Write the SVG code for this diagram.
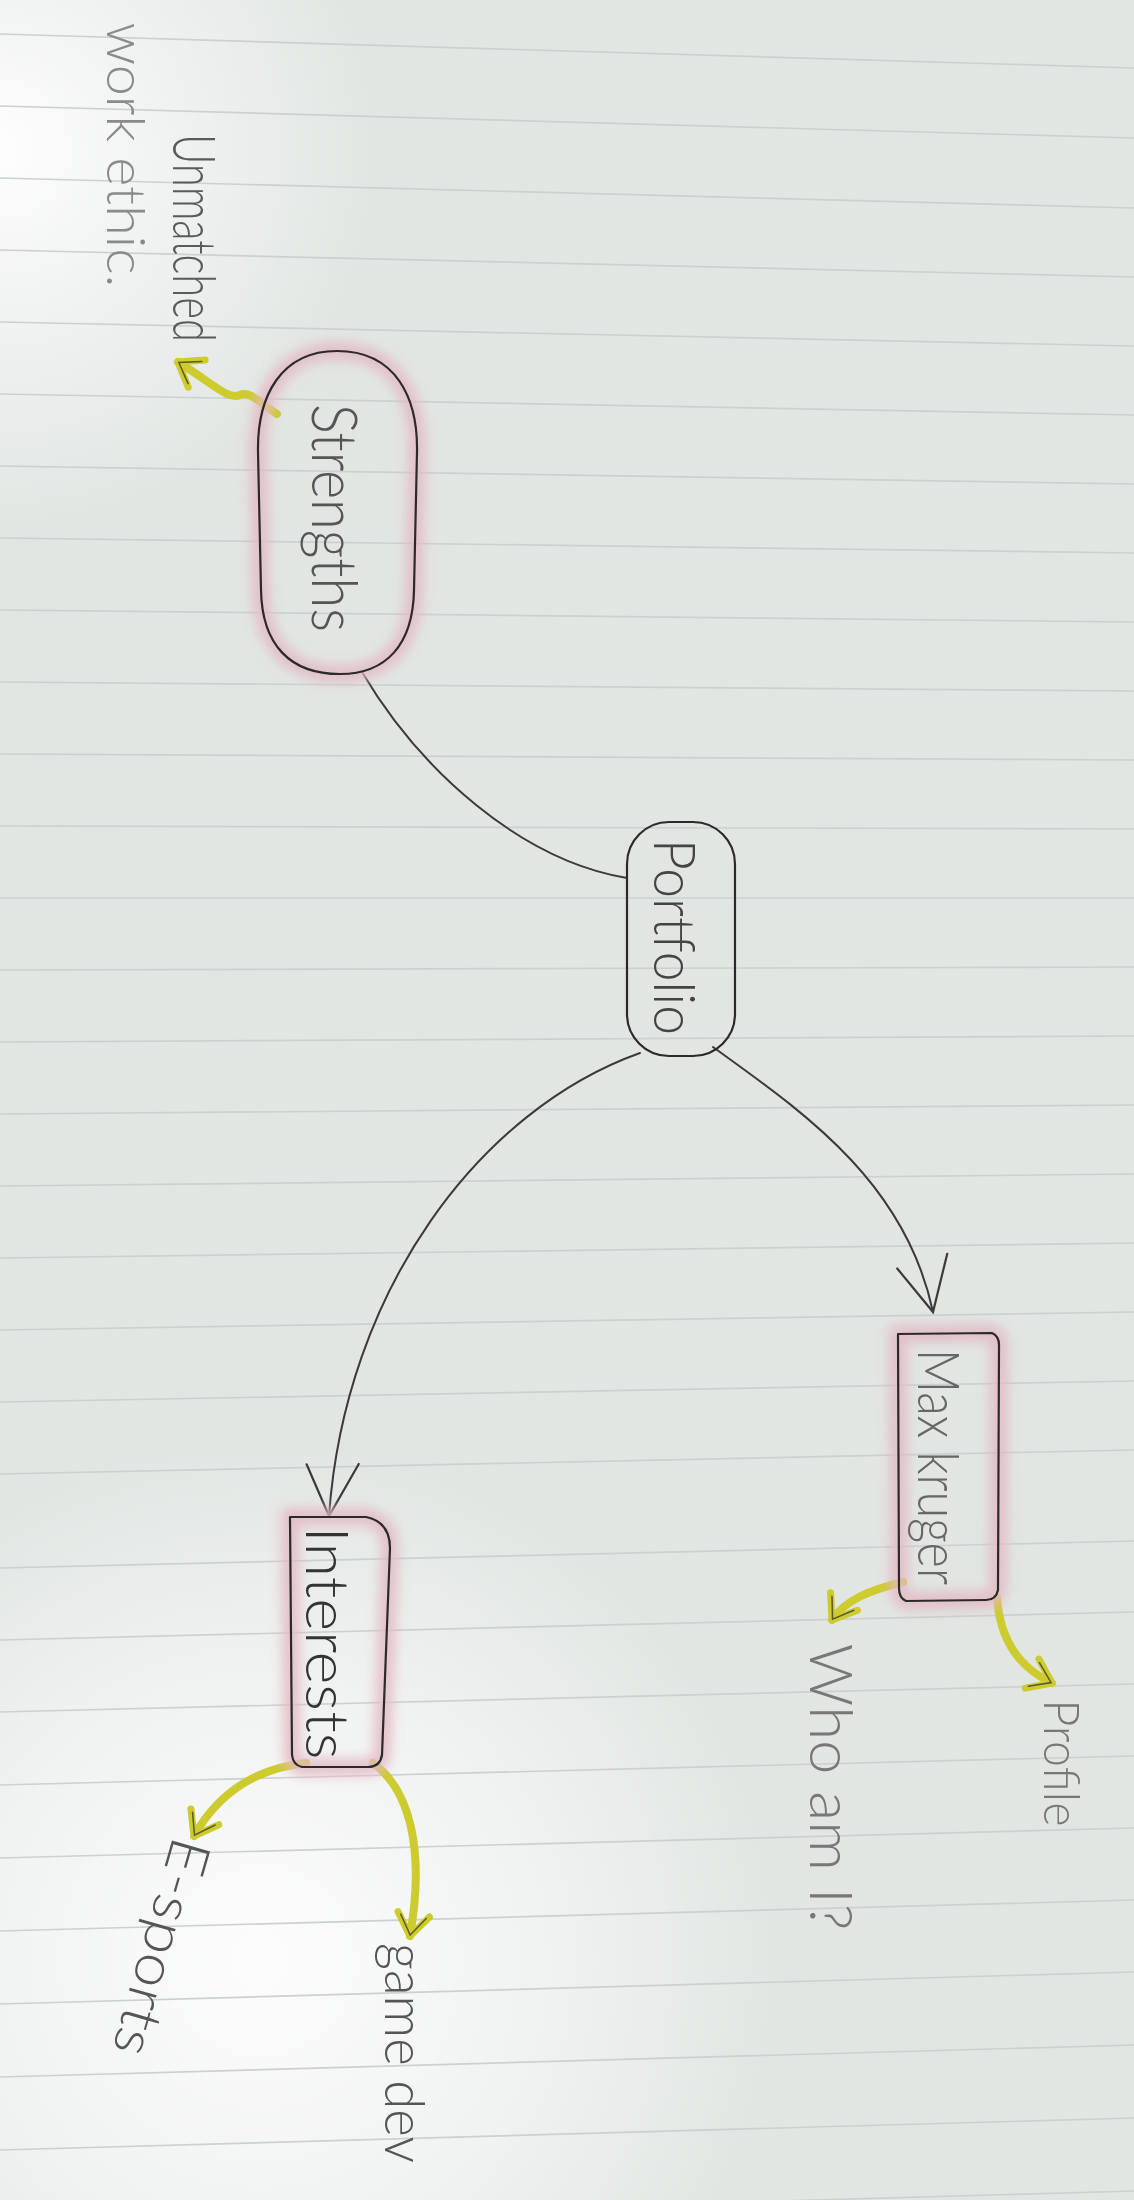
<svg xmlns="http://www.w3.org/2000/svg" width="1134" height="2200" viewBox="0 0 1134 2200">
<defs>
  <radialGradient id="glareTop" cx="0" cy="150" r="380" gradientUnits="userSpaceOnUse">
    <stop offset="0" stop-color="#ffffff" stop-opacity="0.95"/>
    <stop offset="0.5" stop-color="#ffffff" stop-opacity="0.45"/>
    <stop offset="1" stop-color="#ffffff" stop-opacity="0"/>
  </radialGradient>
  <radialGradient id="glareBot" cx="260" cy="1960" r="520" gradientUnits="userSpaceOnUse">
    <stop offset="0" stop-color="#ffffff" stop-opacity="0.9"/>
    <stop offset="0.55" stop-color="#ffffff" stop-opacity="0.5"/>
    <stop offset="1" stop-color="#ffffff" stop-opacity="0"/>
  </radialGradient>
  <filter id="blur" x="-30%" y="-30%" width="160%" height="160%">
    <feGaussianBlur stdDeviation="6"/>
  </filter>
  <marker id="ba" markerUnits="userSpaceOnUse" viewBox="0 0 64 64" refX="60" refY="32" markerWidth="64" markerHeight="64" orient="auto">
    <path d="M6,6 L60,32 L10,58" fill="none" stroke="#3a3a3a" stroke-width="2.2" stroke-linecap="round"/>
  </marker>
  <marker id="ya" markerUnits="userSpaceOnUse" viewBox="0 0 40 40" refX="34" refY="20" markerWidth="40" markerHeight="40" orient="auto">
    <path d="M12,4 L34,20 L12,36" fill="none" stroke="#cdcb2e" stroke-width="7" stroke-linecap="round" stroke-linejoin="round"/>
    <path d="M14,7 L33,20 L14,33" fill="none" stroke="#5a5a2a" stroke-width="1.5" stroke-linecap="round"/>
  </marker>
  <style>
    .rule { stroke: #cad1d0; stroke-width: 1.7; fill: none; }
    .glow { fill: none; stroke: #e3b9c4; stroke-width: 18; filter: url(#blur); opacity: 0.85; }
    .outline { fill: none; stroke: #2a2a2a; stroke-width: 2.2; stroke-linejoin: round; }
    .conn { fill: none; stroke: #3a3a3a; stroke-width: 2; stroke-linecap: round; }
    .yel { fill: none; stroke: #cdcb2e; stroke-width: 8; stroke-linecap: round; stroke-linejoin: round; }
    .hw { font-family: "Lato", "Liberation Sans", "DejaVu Sans", sans-serif; font-weight: 300; text-anchor: middle; }
  </style>
</defs>

<!-- paper -->
<rect x="0" y="0" width="1134" height="2200" fill="#e1e6e3"/>
<rect x="0" y="0" width="1134" height="2200" fill="url(#glareTop)"/>
<rect x="0" y="0" width="1134" height="2200" fill="url(#glareBot)"/>
<g id="rules">
  <path class="rule" d="M0,34 L1134,68"/>
  <path class="rule" d="M0,106 L1134,138"/>
  <path class="rule" d="M0,178 L1134,208"/>
  <path class="rule" d="M0,250 L1134,277"/>
  <path class="rule" d="M0,322 L1134,346"/>
  <path class="rule" d="M0,394 L1134,415"/>
  <path class="rule" d="M0,466 L1134,484"/>
  <path class="rule" d="M0,538 L1134,553"/>
  <path class="rule" d="M0,610 L1134,622"/>
  <path class="rule" d="M0,682 L1134,691"/>
  <path class="rule" d="M0,754 L1134,760"/>
  <path class="rule" d="M0,826 L1134,829"/>
  <path class="rule" d="M0,898 L1134,898"/>
  <path class="rule" d="M0,970 L1134,967"/>
  <path class="rule" d="M0,1042 L1134,1036"/>
  <path class="rule" d="M0,1114 L1134,1105"/>
  <path class="rule" d="M0,1186 L1134,1174"/>
  <path class="rule" d="M0,1258 L1134,1243"/>
  <path class="rule" d="M0,1330 L1134,1312"/>
  <path class="rule" d="M0,1402 L1134,1381"/>
  <path class="rule" d="M0,1474 L1134,1450"/>
  <path class="rule" d="M0,1568 L1134,1541"/>
  <path class="rule" d="M0,1640 L1134,1612"/>
  <path class="rule" d="M0,1712 L1134,1684"/>
  <path class="rule" d="M0,1785 L1134,1756"/>
  <path class="rule" d="M0,1858 L1134,1828"/>
  <path class="rule" d="M0,1931 L1134,1900"/>
  <path class="rule" d="M0,2004 L1134,1972"/>
  <path class="rule" d="M0,2077 L1134,2045"/>
  <path class="rule" d="M0,2150 L1134,2118"/>
  <path class="rule" d="M0,2223 L1134,2191"/>
</g>

<!-- connectors -->
<g id="connectors">
  <path class="conn" d="M362,672 C 420,770 520,860 627,878"/>
  <path class="conn" d="M640,1053 C 480,1110 345,1290 329,1516" marker-end="url(#ba)"/>
  <path class="conn" d="M713,1047 C 800,1110 905,1180 933,1312" marker-end="url(#ba)"/>
  <path class="yel" d="M277,414 C 262,405 250,390 240,395 C 228,400 215,385 178,362" marker-end="url(#ya)"/>
  <path class="yel" d="M903,1582 C 870,1590 845,1600 832,1620" marker-end="url(#ya)"/>
  <path class="yel" d="M997,1598 C 1000,1640 1020,1668 1052,1683" marker-end="url(#ya)"/>
  <path class="yel" d="M306,1763 C 260,1768 220,1790 194,1836" marker-end="url(#ya)"/>
  <path class="yel" d="M373,1763 C 410,1790 425,1850 410,1936" marker-end="url(#ya)"/>
</g>

<!-- nodes -->
<g id="node-strengths">
  <path class="glow" d="M337,351 C 396,351 418,398 417,452 L 414,590 C 413,645 386,674 340,674 C 290,674 262,645 261,590 L 258,452 C 257,396 281,351 337,351 Z"/>
  <path class="outline" d="M337,351 C 396,351 418,398 417,452 L 414,590 C 413,645 386,674 340,674 C 290,674 262,645 261,590 L 258,452 C 257,396 281,351 337,351 Z"/>
  <text class="hw" transform="translate(312,518) rotate(90)" font-size="64" fill="#555" textLength="228" lengthAdjust="spacingAndGlyphs">Strengths</text>
</g>
<g id="node-unmatched">
  <text class="hw" transform="translate(173,238) rotate(90)" font-size="60" fill="#5a5a5a" textLength="208" lengthAdjust="spacingAndGlyphs">Unmatched</text>
  <text class="hw" transform="translate(107,155) rotate(90)" font-size="54" fill="#8a8a8a" textLength="265" lengthAdjust="spacingAndGlyphs">work ethic.</text>
</g>
<g id="node-portfolio">
  <rect class="outline" x="627" y="822" width="108" height="234" rx="42" ry="42"/>
  <text class="hw" transform="translate(654,937) rotate(90)" font-size="58" fill="#444" textLength="196" lengthAdjust="spacingAndGlyphs">Portfolio</text>
</g>
<g id="node-max">
  <path class="glow" d="M898,1334 L992,1333 Q999,1336 999,1345 L998,1590 Q996,1600 986,1600 L906,1601 Q899,1598 899,1588 Z"/>
  <path class="outline" d="M898,1334 L992,1333 Q999,1336 999,1345 L998,1590 Q996,1600 986,1600 L906,1601 Q899,1598 899,1588 Z"/>
  <text class="hw" transform="translate(918,1467) rotate(90)" font-size="58" fill="#666" textLength="236" lengthAdjust="spacingAndGlyphs">Max kruger</text>
</g>
<g id="node-interests">
  <path class="glow" d="M290,1517 L366,1517 Q390,1522 390,1548 L382,1755 Q380,1767 368,1767 L302,1767 Q293,1765 292,1755 Z"/>
  <path class="outline" d="M290,1517 L366,1517 Q390,1522 390,1548 L382,1755 Q380,1767 368,1767 L302,1767 Q293,1765 292,1755 Z"/>
  <text class="hw" transform="translate(306,1643) rotate(90)" font-size="60" fill="#333" textLength="233" lengthAdjust="spacingAndGlyphs">Interests</text>
</g>
<g id="node-whoami">
  <text class="hw" transform="translate(810,1787) rotate(90)" font-size="60" fill="#777" textLength="287" lengthAdjust="spacingAndGlyphs">Who am I?</text>
</g>
<g id="node-profile">
  <text class="hw" transform="translate(1044,1763) rotate(90)" font-size="50" fill="#777" textLength="127" lengthAdjust="spacingAndGlyphs">Profile</text>
</g>
<g id="node-gamedev">
  <text class="hw" transform="translate(385,2053) rotate(90)" font-size="56" fill="#555" textLength="220" lengthAdjust="spacingAndGlyphs">game dev</text>
</g>
<g id="node-esports">
  <text class="hw" transform="translate(143,1942) rotate(106)" font-size="56" fill="#555" textLength="224" lengthAdjust="spacingAndGlyphs">E-sports</text>
</g>
</svg>
